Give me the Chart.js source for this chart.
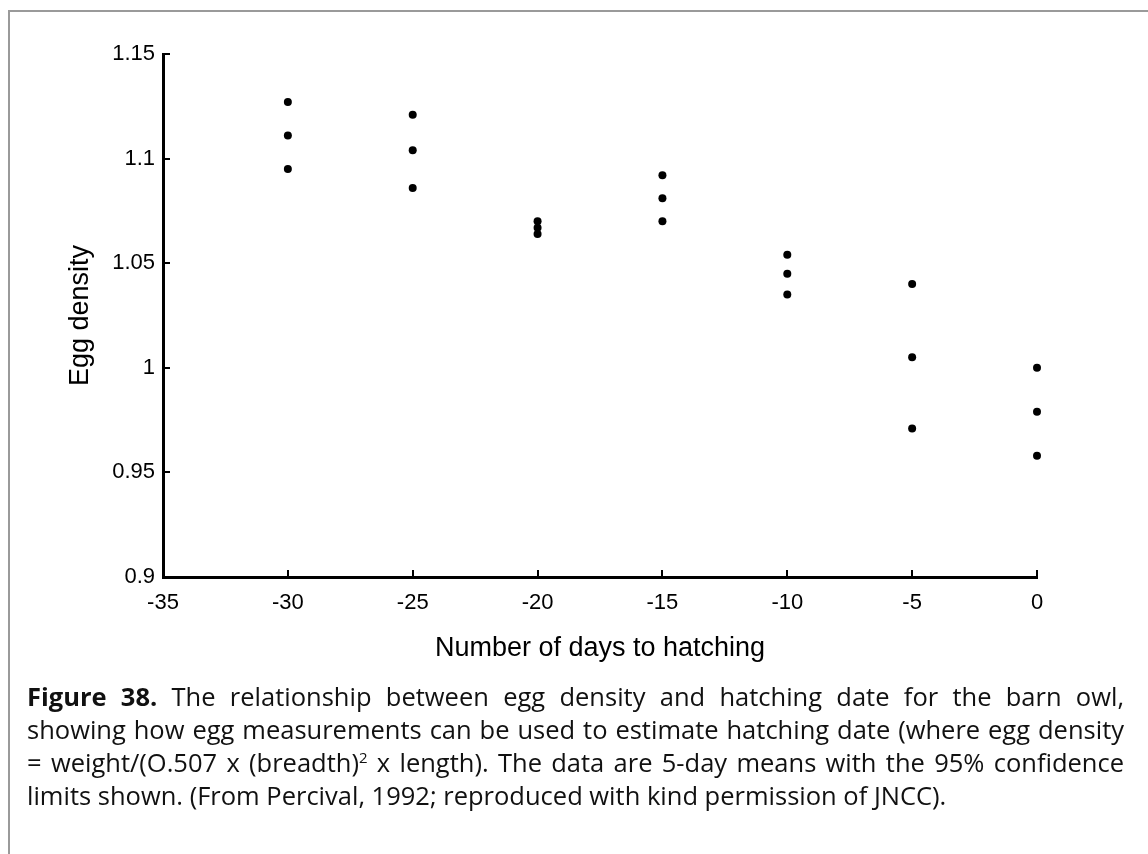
<!DOCTYPE html>
<html>
<head>
<meta charset="utf-8">
<script src="https://cdn.jsdelivr.net/npm/chart.js@4"></script>
<style>
  body { margin: 0; background: #fff; width: 1148px; height: 854px; overflow: hidden; position: relative; }
  #frame { position: absolute; left: 8px; top: 10px; width: 1200px; height: 900px;
           border-top: 2px solid #9a9a9a; border-left: 2px solid #9a9a9a; }
  #chartBox { position: absolute; left: 0; top: 0; width: 1148px; height: 690px; }
  #caption { position: absolute; left: 27px; top: 680px; width: 1097px;
             font-family: "Open Sans", sans-serif; font-size: 25.5px; line-height: 33px; color: #111; }
  #caption div { text-align: justify; text-align-last: justify; white-space: nowrap; }
  #caption div.last { text-align-last: left; }
  #caption sup { font-size: 15px; line-height: 0; vertical-align: 9px; }
</style>
</head>
<body>
<div id="frame"></div>
<div id="chartBox"><canvas id="eggChart" width="1148" height="690"></canvas></div>
<div id="caption">
  <div><b>Figure 38.</b> The relationship between egg density and hatching date for the barn owl,</div>
  <div>showing how egg measurements can be used to estimate hatching date (where egg density</div>
  <div>= weight/(O.507 x (breadth)<sup>2</sup> x length). The data are 5-day means with the 95% confidence</div>
  <div class="last">limits shown. (From Percival, 1992; reproduced with kind permission of JNCC).</div>
</div>
<script>
// datos
const days = [-30, -25, -20, -15, -10, -5, 0];
const upperLimit = [1.127, 1.121, 1.070, 1.092, 1.054, 1.040, 1.000];
const meanDensity = [1.111, 1.104, 1.067, 1.081, 1.045, 1.005, 0.979];
const lowerLimit = [1.095, 1.086, 1.064, 1.070, 1.035, 0.971, 0.958];

const xTicks = [-35, -30, -25, -20, -15, -10, -5, 0];
const xTickLabels = ['-35', '-30', '-25', '-20', '-15', '-10', '-5', '0'];
const yTicks = [0.9, 0.95, 1, 1.05, 1.1, 1.15];
const yTickLabels = ['0.9', '0.95', '1', '1.05', '1.1', '1.15'];

function toPoints(values) {
    return days.map((d, i) => ({ x: d, y: values[i] }));
}

function makeDataset(label, values) {
    return {
        label: label,
        data: toPoints(values),
        backgroundColor: '#000',
        borderColor: '#000',
        borderWidth: 0,
        pointRadius: 4,
        pointHoverRadius: 4,
        clip: false
    };
}

const axisFont = { family: '"Liberation Sans", Arial, sans-serif', size: 22 };
const titleFont = { family: '"Liberation Sans", Arial, sans-serif', size: 27 };

let ctx = document.getElementById('eggChart').getContext('2d');
let chart = new Chart(ctx, {
    type: 'scatter',
    data: {
        datasets: [
            makeDataset('Upper 95% limit', upperLimit),
            makeDataset('5-day mean', meanDensity),
            makeDataset('Lower 95% limit', lowerLimit)
        ]
    },
    options: {
        responsive: false,
        animation: false,
        layout: { padding: { top: 54, right: 111, bottom: 0, left: 0 } },
        plugins: {
            legend: { display: false },
            tooltip: { enabled: false }
        },
        scales: {
            x: {
                type: 'linear',
                min: -35,
                max: 0,
                afterBuildTicks: (scale) => { scale.ticks = xTicks.map(v => ({ value: v })); },
                afterFit: (scale) => { scale.height = 113; },
                grid: { display: true, drawOnChartArea: false, drawTicks: true, tickLength: -7, color: '#000', lineWidth: 2 },
                border: { display: true, color: '#000', width: 3 },
                ticks: {
                    color: '#000',
                    font: axisFont,
                    padding: 20,
                    maxRotation: 0,
                    callback: (value, index) => xTickLabels[index]
                },
                title: {
                    display: true,
                    text: 'Number of days to hatching',
                    color: '#000',
                    font: titleFont,
                    padding: { top: 0, bottom: 25 }
                }
            },
            y: {
                type: 'linear',
                min: 0.9,
                max: 1.15,
                afterBuildTicks: (scale) => { scale.ticks = yTicks.map(v => ({ value: v })); },
                afterFit: (scale) => { scale.width = 163; },
                grid: { display: true, drawOnChartArea: false, drawTicks: true, tickLength: -7, color: '#000', lineWidth: 2 },
                border: { display: true, color: '#000', width: 3 },
                ticks: {
                    color: '#000',
                    font: axisFont,
                    padding: 15,
                    callback: (value, index) => yTickLabels[index]
                },
                title: {
                    display: true,
                    text: 'Egg density',
                    color: '#000',
                    font: titleFont,
                    padding: { top: 64, bottom: 0 }
                }
            }
        }
    }
});
</script>
</body>
</html>
